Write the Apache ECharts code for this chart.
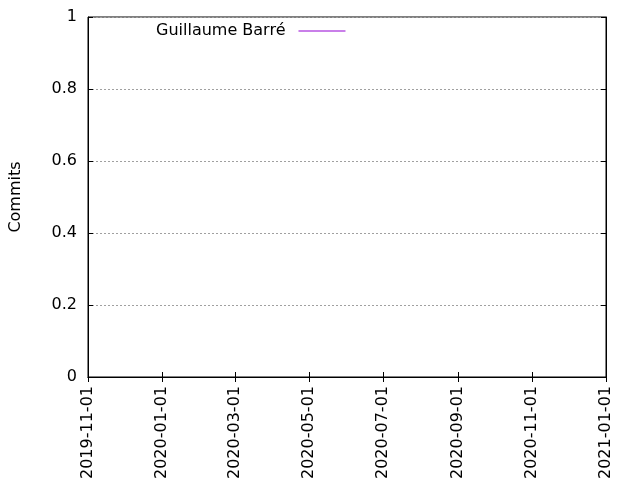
<!DOCTYPE html>
<html><head><meta charset="utf-8">
<script src="https://cdn.jsdelivr.net/npm/echarts@6/dist/echarts.min.js"></script>
<style>html,body{margin:0;padding:0;background:#fff}#c{width:640px;height:480px}</style>
</head><body><div id="c"></div>
<script>
const seriesName = 'Guillaume Barré';
const seriesData = []; // no visible data points
const xTickLabels = ['2019-11-01','2020-01-01','2020-03-01','2020-05-01','2020-07-01','2020-09-01','2020-11-01','2021-01-01'];
const yMin = 0, yMax = 1, yStep = 0.2;

const ts = s => Date.parse(s + 'T00:00:00Z');
const xTicks = xTickLabels.map(ts);
const fmt = v => { const d = new Date(v); return d.toISOString().slice(0,10); };
const font = 'DejaVu Sans';
const fs = 16;

const chart = echarts.init(document.getElementById('c'));
chart.setOption({
  animation: false,
  textStyle: {fontFamily: font},
  grid: {left: 88, right: 34, top: 17, bottom: 103, show: true, borderColor: '#000', borderWidth: 1, backgroundColor: 'transparent', outerBoundsMode: 'none', containLabel: false},
  legend: {
    data: [seriesName], left: 151, top: 18, align: 'right', itemGap: 10,
    itemWidth: 47, itemHeight: 1.2, icon: 'rect',
    textStyle: {fontFamily: font, fontSize: fs, color: '#000', padding: [0, 8, 0, 0]}
  },
  xAxis: [{
    type: 'value', min: xTicks[0], max: xTicks[xTicks.length-1],
    axisLine: {show: true, lineStyle: {color: '#000'}},
    axisTick: {show: true, inside: true, length: 5, lineStyle: {color: '#000'}, customValues: xTicks},
    axisLabel: {rotate: 90, fontSize: fs, color: '#000', margin: 9, customValues: xTicks, formatter: fmt, fontFamily: font},
    splitLine: {show: false}
  }, {
    type: 'value', position: 'top', min: xTicks[0], max: xTicks[xTicks.length-1],
    axisLine: {show: true, lineStyle: {color: '#000'}},
    axisTick: {show: true, inside: true, length: 5, lineStyle: {color: '#000'}, customValues: xTicks},
    axisLabel: {show: false}, splitLine: {show: false}
  }],
  yAxis: [{
    type: 'value', min: yMin, max: yMax, interval: yStep,
    name: 'Commits', nameLocation: 'middle', nameGap: 64, nameRotate: 90,
    nameTextStyle: {fontSize: fs, color: '#000', fontFamily: font},
    axisLine: {show: true, lineStyle: {color: '#000'}},
    axisTick: {show: true, inside: true, length: 5, lineStyle: {color: '#000'}},
    axisLabel: {fontSize: fs, color: '#000', margin: 11, fontFamily: font, formatter: v => String(+v.toFixed(1))},
    splitLine: {show: true, lineStyle: {color: '#a0a0a0', type: [2, 2], width: 1}}
  }, {
    type: 'value', position: 'right', min: yMin, max: yMax, interval: yStep,
    axisLine: {show: true, lineStyle: {color: '#000'}},
    axisTick: {show: true, inside: true, length: 5, lineStyle: {color: '#000'}},
    axisLabel: {show: false}, splitLine: {show: false}
  }],
  series: [{
    name: seriesName, type: 'line', data: seriesData, showSymbol: false,
    color: '#9400d3', lineStyle: {width: 1, color: '#9400d3'}
  }]
});
</script></body></html>
